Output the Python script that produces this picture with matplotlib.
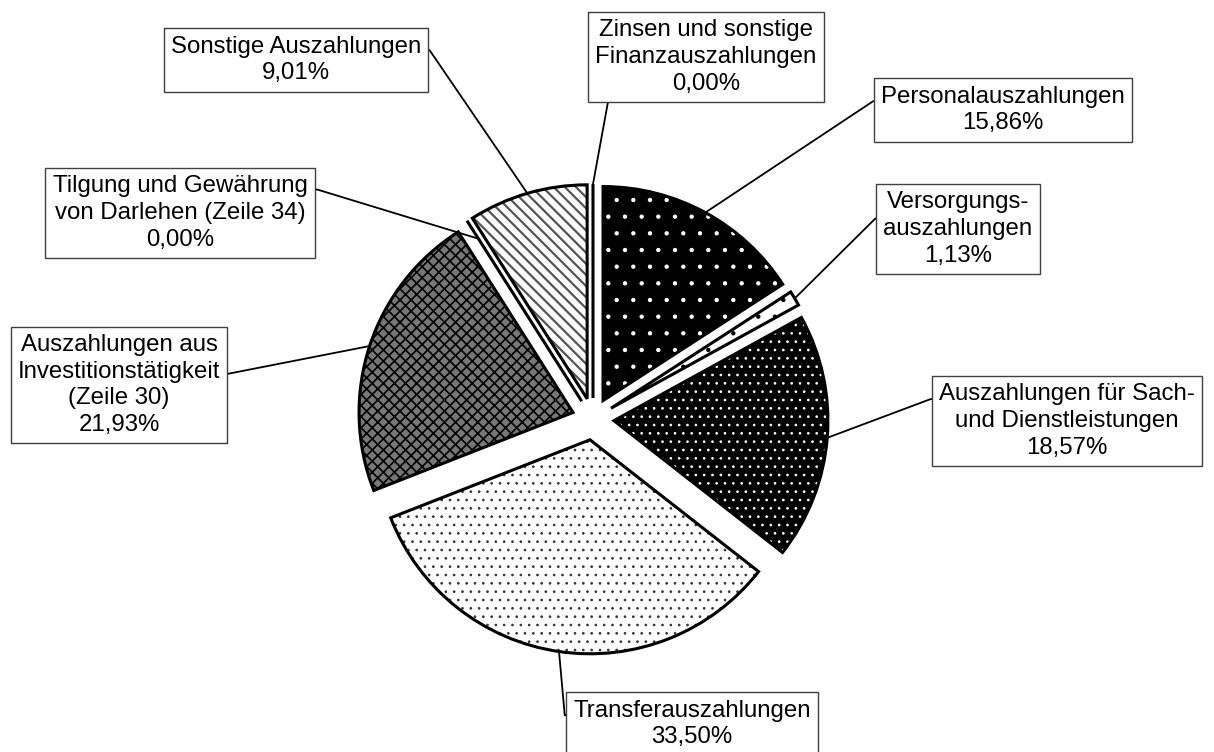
"""Exploded pie of Auszahlungen with hatched slices and boxed labels."""

import matplotlib

matplotlib.use("Agg")
import numpy as np
from matplotlib import pyplot as plt
from matplotlib.patches import Wedge

# slices clockwise from 12 o'clock
names = [
    "Personalauszahlungen",
    "Versorgungs-\nauszahlungen",
    "Auszahlungen für Sach-\nund Dienstleistungen",
    "Transferauszahlungen",
    "Auszahlungen aus\nInvestitionstätigkeit\n(Zeile 30)",
    "Tilgung und Gewährung\nvon Darlehen (Zeile 34)",
    "Sonstige Auszahlungen",
    "Zinsen und sonstige\nFinanzauszahlungen",
]
shares = [15.86, 1.13, 18.57, 33.50, 21.93, 0.00, 9.01, 0.00]

# fill styles: (face, hatch colour, hatch, hatch linewidth)
styles = [
    ("black", "white", ".", 0.7),
    ("white", "black", ".", 0.7),
    ("black", "white", "..", 0.7),
    ("white", "#333333", "..", 0.7),
    ("#777777", "black", "xxx", 1.2),
    ("white", "black", "", 1.0),
    ("white", "#555555", "\\\\\\", 1.6),
    ("white", "black", "", 1.0),
]

# label layout in pixel coords (y down): box centre, attach point on box, stub angle/length (pt)
label_pos = [(1003, 110), (958, 229), (1067, 421), (692, 724), (119, 385),
             (180, 213), (296, 60), (706, 57)]
relpos = [(0, 0.68), (0, 0.64), (0, 0.79), (0, 0.68), (1, 0.61),
          (1, 0.81), (1, 0.70), (0.063, 0)]
stub = [(180, 8), (180, 8), (180, 8.5), (180, 8.5), (0, 8), (0, 10), (0, 8.5), (0, 0)]

W, H = 1214, 752
CX, CY, R = 593, 419, 214
EXPLODE = 21

plt.rcParams["font.family"] = ["Liberation Sans", "DejaVu Sans"]
plt.rcParams["hatch.linewidth"] = 1.0

fig = plt.figure(figsize=(W / 100, H / 100), dpi=100)
ax = fig.add_axes([0, 0, 1, 1])

wedges, _ = ax.pie(
    shares,
    explode=[EXPLODE] * len(shares),
    startangle=90,
    counterclock=False,
    radius=R,
    center=(CX, H - CY),
    wedgeprops=dict(linewidth=0),
)

for w, (face, hcol, hatch, hlw) in zip(wedges, styles):
    w.set_facecolor(face)
    w.set_edgecolor(hcol)
    w.set_hatch(hatch)
    if hasattr(w, "set_hatch_linewidth"):
        w.set_hatch_linewidth(hlw)
    ax.add_patch(
        Wedge(w.center, w.r, w.theta1, w.theta2, fill=False, ec="black", lw=2.2,
              joinstyle="miter")
    )

for i, w in enumerate(wedges):
    mid = np.radians((w.theta1 + w.theta2) / 2)
    frac = 0.9 if i == 5 else 1.0
    anchor = (w.center[0] + frac * w.r * np.cos(mid), w.center[1] + frac * w.r * np.sin(mid))
    txt = f"{names[i]}\n{shares[i]:.2f}%".replace(".", ",")
    ang, arm = stub[i]
    conn = f"arc,angleA={ang},armA={arm},angleB=0,armB=0,rad=0" if arm else "arc3"
    ax.annotate(
        txt,
        xy=anchor,
        xytext=(label_pos[i][0], H - label_pos[i][1]),
        ha="center",
        va="center",
        multialignment="center",
        fontsize=17.3,
        linespacing=1.28,
        bbox=dict(boxstyle="square,pad=0.3", fc="white", ec="#404040", lw=1),
        arrowprops=dict(arrowstyle="-", color="black", lw=1.3, shrinkA=0, shrinkB=0,
                        relpos=relpos[i], connectionstyle=conn),
    )

ax.set_xlim(0, W)
ax.set_ylim(0, H)
ax.set_aspect("equal")
ax.axis("off")
fig.savefig("out.png", dpi=100)
